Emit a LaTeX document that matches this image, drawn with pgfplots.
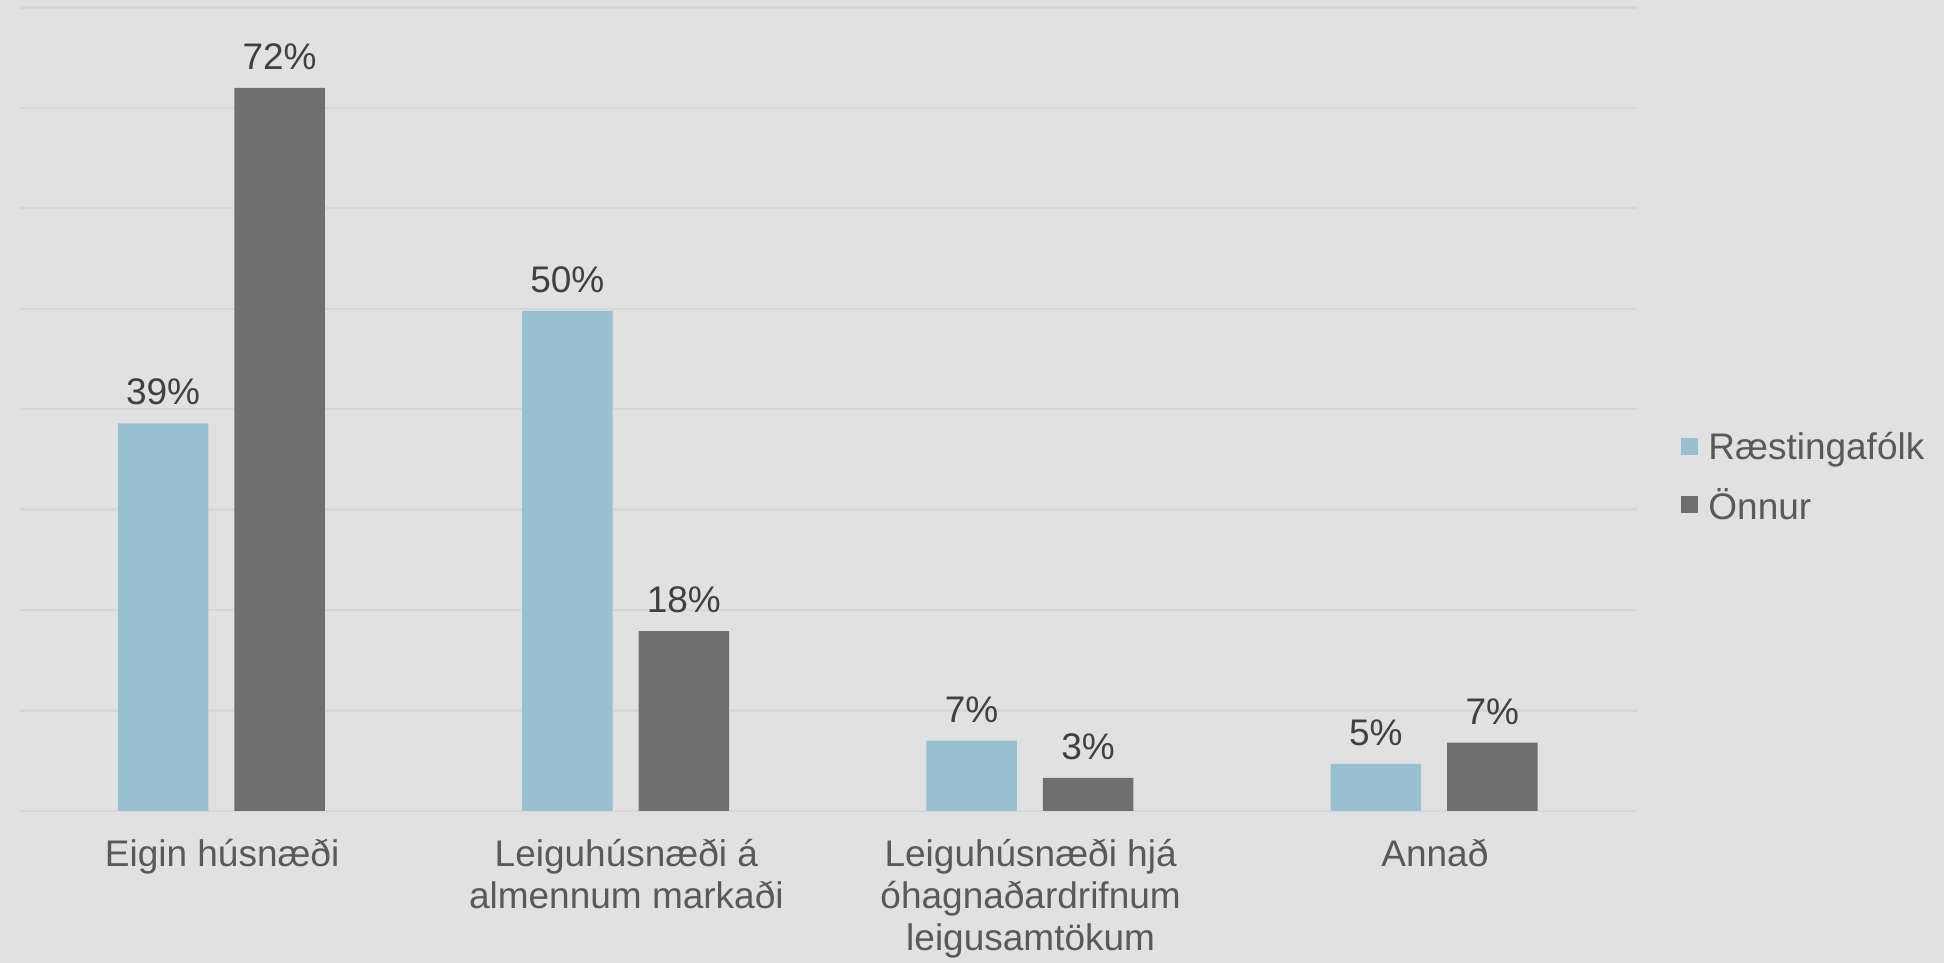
\documentclass[border=0pt]{standalone}
\usepackage{fontspec}
\setmainfont{Liberation Sans}
\usepackage{pgfplots}
\pgfplotsset{compat=1.18}
\definecolor{bgc}{HTML}{E1E1E1}
\definecolor{gridc}{HTML}{D7D7D7}
\definecolor{cblue}{HTML}{98C0D0}
\definecolor{cgray}{HTML}{6F6F6F}
\definecolor{lblc}{HTML}{404040}
\definecolor{tickc}{HTML}{595959}
\newcommand\cf{\fontsize{18.5}{21}\selectfont}
\begin{document}
\begin{tikzpicture}
\useasboundingbox (0,0) rectangle (972pt,481.5pt);
\fill[bgc] (0,0) rectangle (972pt,481.5pt);
\begin{axis}[
  at={(10pt,76pt)}, anchor=south west,
  scale only axis, width=808.5pt, height=401.8pt,
  xmin=-0.5, xmax=3.5, ymin=0, ymax=80,
  axis line style={draw=none},
  ymajorgrids, grid style={gridc, line width=1.2pt},
  ytick={0,10,...,80}, yticklabels={},
  xtick={0,1,2,3},
  xticklabels={Eigin húsnæði,{Leiguhúsnæði á\\almennum markaði},{Leiguhúsnæði hjá\\óhagnaðardrifnum\\leigusamtökum},Annað},
  xticklabel style={font=\cf, text=tickc, align=center, inner sep=0pt, anchor=north, yshift=-14pt},
  major tick length=0pt, tick style={draw=none},
  /pgf/number format/assume math mode=true,
  ybar, bar width=0.224,
  clip=false,
  nodes near coords={\pgfmathprintnumber[fixed,precision=0,assume math mode=true]{\pgfplotspointmeta}\%},
  every node near coord/.append style={font=\cf, text=lblc, anchor=south, yshift=5.5pt},
  legend style={at={(1.0,0.415)}, anchor=west, xshift=22pt, draw=none, fill=none, font=\cf, text=tickc, inner sep=0pt, row sep=13pt, nodes={inner sep=0pt}},
  legend cell align=left,
  legend image code/.code={\fill[#1] (0pt,-3.5pt) rectangle (8.5pt,5pt);},
]
\addplot[fill=cblue, draw=none, bar shift=-0.146] coordinates {(0,38.6) (1,49.8) (2,7.0) (3,4.7)};
\addplot[fill=cgray, draw=none, bar shift=0.142] coordinates {(0,72.0) (1,17.9) (2,3.3) (3,6.8)};
\legend{\hspace{5pt}Ræstingafólk,\hspace{5pt}Önnur}
\end{axis}
\end{tikzpicture}
\end{document}
